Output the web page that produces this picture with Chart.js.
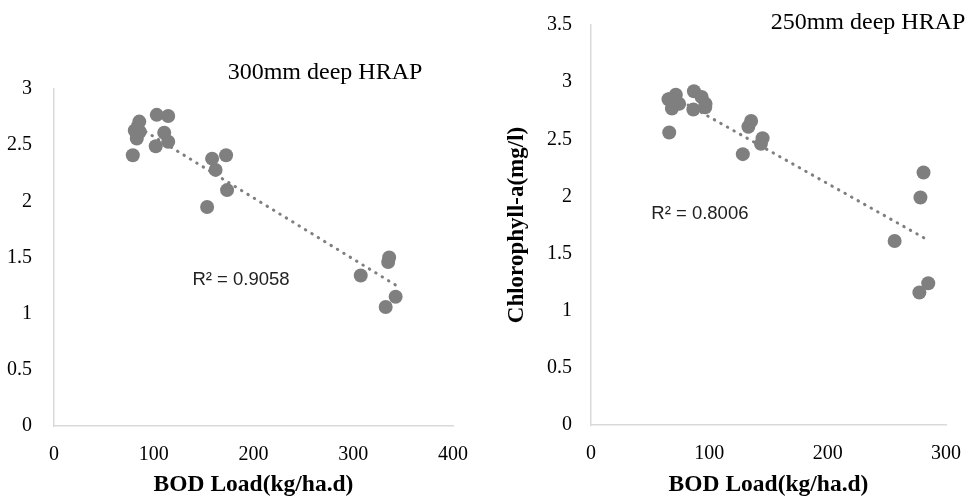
<!DOCTYPE html>
<html>
<head>
<meta charset="utf-8">
<script src="https://cdn.jsdelivr.net/npm/chart.js@4.4.0/dist/chart.umd.min.js"></script>
<style>
body{margin:0;background:#fff;}
#wrap{position:relative;width:970px;height:497px;overflow:hidden;}
#left{position:absolute;left:0;top:0;}
#right{position:absolute;left:480px;top:0;}
</style>
</head>
<body>
<div id="wrap">
<canvas id="left" width="480" height="497"></canvas>
<canvas id="right" width="490" height="497"></canvas>
</div>
<script>
// 300mm deep pond
const bod300 = [79, 81, 83, 85.5, 86, 102, 103, 110.5, 114.5, 114.5, 153.5, 158.5, 162, 172.5, 173.5, 307.5, 335, 336, 332.5, 342.5];
const chl300 = [2.41, 2.63, 2.56, 2.71, 2.62, 2.49, 2.77, 2.61, 2.76, 2.53, 1.95, 2.38, 2.28, 2.41, 2.10, 1.34, 1.46, 1.50, 1.06, 1.15];
const xTicks300 = [0, 100, 200, 300, 400];
const yTicks300 = [0, 0.5, 1, 1.5, 2, 2.5, 3];

// 250mm deep pond
const bod250 = [65.5, 66.1, 68.4, 71.7, 74.5, 86.5, 87, 93.5, 96.8, 96.5, 128.3, 133, 135.3, 143.6, 145, 256.6, 277.5, 278.4, 281, 285];
const chl250 = [2.85, 2.56, 2.77, 2.89, 2.81, 2.76, 2.92, 2.87, 2.81, 2.78, 2.37, 2.61, 2.66, 2.46, 2.51, 1.61, 1.16, 1.99, 2.21, 1.24];
const xTicks250 = [0, 100, 200, 300];
const yTicks250 = [0, 0.5, 1, 1.5, 2, 2.5, 3, 3.5];

const serif = "'Liberation Serif', 'Times New Roman', serif";
const sans = "'Liberation Sans', Arial, sans-serif";
Chart.defaults.font.family = serif;
Chart.defaults.color = "#000";

const grey = "#7f7f7f";
const axisLine = "#d9d9d9";

// least squares line over the x range of the data
function trend(xs, ys){
  const n = xs.length;
  const mx = xs.reduce((a,b)=>a+b,0)/n;
  const my = ys.reduce((a,b)=>a+b,0)/n;
  let sxy = 0, sxx = 0;
  for(let i=0;i<n;i++){
    sxy += (xs[i]-mx)*(ys[i]-my);
    sxx += (xs[i]-mx)*(xs[i]-mx);
  }
  const m = sxy/sxx, b = my - m*mx;
  const lo = Math.min(...xs), hi = Math.max(...xs);
  return [{x:lo, y:b+m*lo}, {x:hi, y:b+m*hi}];
}

const notes = {
  id: "notes",
  afterDatasetsDraw(chart, args, opts){
    const ctx = chart.ctx;
    const sx = chart.scales.x, sy = chart.scales.y;
    (opts.items || []).forEach(it => {
      ctx.save();
      ctx.font = it.font;
      ctx.fillStyle = it.color || "#000";
      ctx.textAlign = "center";
      ctx.textBaseline = "middle";
      const px = it.data ? sx.getPixelForValue(it.x) : it.x;
      const py = it.data ? sy.getPixelForValue(it.y) : it.y;
      ctx.fillText(it.text, px, py);
      ctx.restore();
    });
  }
};

function makeChart(id, s){
  const pts = s.xs.map((x,i)=>({x:x, y:s.ys[i]}));
  return new Chart(document.getElementById(id), {
    type: "scatter",
    data: {
      datasets: [{
        data: pts,
        backgroundColor: grey,
        borderColor: grey,
        borderWidth: 0,
        pointRadius: 7
      },{
        data: trend(s.xs, s.ys),
        showLine: true,
        borderColor: grey,
        borderWidth: 3,
        borderDash: [0.5, 7],
        borderCapStyle: "round",
        pointRadius: 0
      }]
    },
    options: {
      responsive: false,
      animation: false,
      layout: {padding: s.pad},
      plugins: {
        legend: {display: false},
        tooltip: {enabled: false},
        notes: {items: s.notes}
      },
      scales: {
        x: {
          type: "linear",
          min: s.xTicks[0], max: s.xTicks[s.xTicks.length-1],
          afterBuildTicks: a => { a.ticks = s.xTicks.map(v=>({value:v})); },
          afterFit: a => { a.height = s.xh; },
          grid: {display: false},
          border: {display: true, color: axisLine, width: 1.5},
          ticks: {padding: 9, font: {size: 20}, color: "#000", maxRotation: 0, callback: v => String(v)},
          title: {display: true, text: s.xTitle, font: {size: 23.5, weight: "bold", lineHeight: 1}, padding: {top: 0, bottom: 0}, color: "#000"}
        },
        y: {
          type: "linear",
          min: s.yTicks[0], max: s.yTicks[s.yTicks.length-1],
          afterBuildTicks: a => { a.ticks = s.yTicks.map(v=>({value:v})); },
          afterFit: a => { a.width = s.yw; },
          grid: {display: false},
          border: {display: true, color: axisLine, width: 1.5},
          ticks: {padding: s.yPad, font: {size: 20}, color: "#000", callback: v => String(v)},
          title: s.yTitle ? {display: true, text: s.yTitle, font: {size: 23, weight: "bold", lineHeight: 1.2}, padding: {top: 23, bottom: 0}, color: "#000"} : {display: false}
        }
      }
    },
    plugins: [notes]
  });
}

makeChart("left", {
  xs: bod300, ys: chl300, xTicks: xTicks300, yTicks: yTicks300,
  pad: {left: 0, top: 89, right: 27, bottom: 0},
  xh: 71, yw: 54, yPad: 14,
  xTitle: "BOD Load(kg/ha.d)",
  notes: [
    {text: "300mm deep HRAP", x: 325, y: 73, font: "24px " + serif},
    {text: "R² = 0.9058", x: 187.5, y: 1.30, data: true, font: "18.5px " + sans, color: "#222"}
  ]
});

makeChart("right", {
  xs: bod250, ys: chl250, xTicks: xTicks250, yTicks: yTicks250,
  pad: {left: 0, top: 25, right: 20.5, bottom: 0},
  xh: 72, yw: 111, yPad: 11,
  xTitle: "BOD Load(kg/ha.d)",
  yTitle: "Chlorophyll-a(mg/l)",
  notes: [
    {text: "250mm deep HRAP", x: 388, y: 23, font: "24px " + serif},
    {text: "R² = 0.8006", x: 92, y: 1.85, data: true, font: "18.5px " + sans, color: "#222"}
  ]
});
</script>
</body>
</html>
